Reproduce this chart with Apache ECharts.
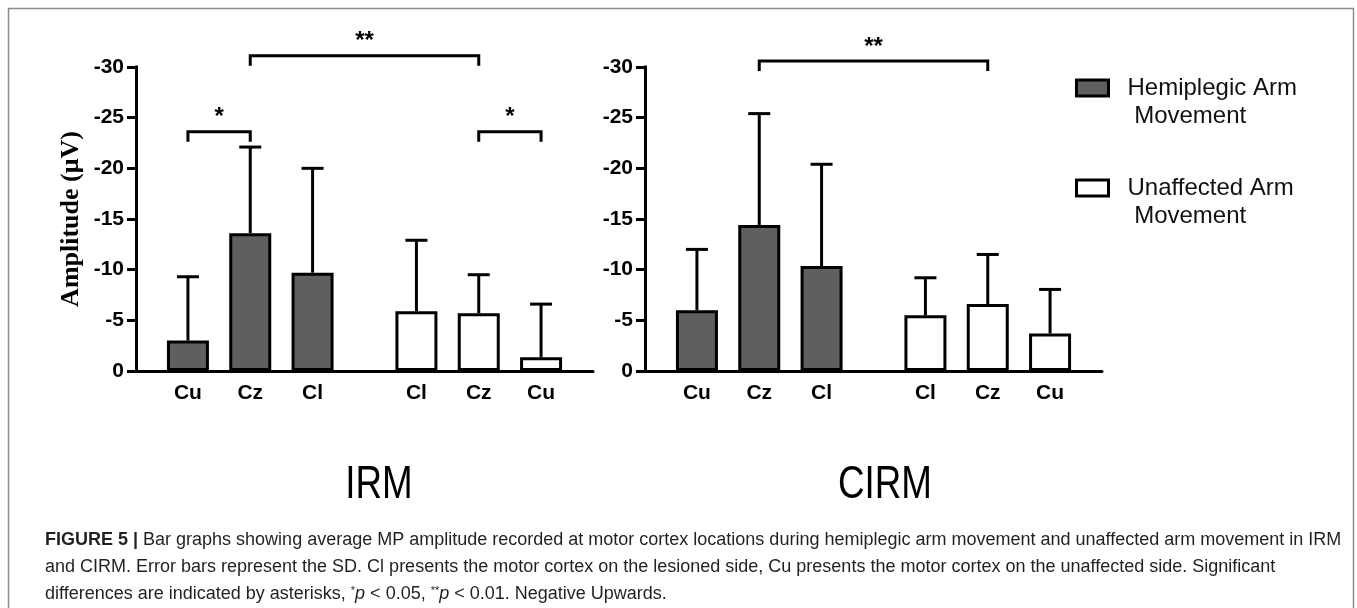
<!DOCTYPE html>
<html>
<head>
<meta charset="utf-8">
<script src="https://cdn.jsdelivr.net/npm/echarts@6/dist/echarts.min.js"></script>
<style>
  html, body { margin: 0; padding: 0; background: #fff; }
  #chart { width: 1357px; height: 608px; }
</style>
</head>
<body>
<div id="chart"></div>
<script>
// recording sites, left to right in each panel
const siteLabels = ['Cu', 'Cz', 'Cl', 'Cl', 'Cz', 'Cu'];

// IRM panel (uV, negative upwards)
const irmHemiMean = [-3.0, -13.6, -9.7];
const irmHemiSD = [6.3, 8.5, 10.3];
const irmUnaffMean = [-5.9, -5.7, -1.35];
const irmUnaffSD = [7.0, 3.8, 5.25];

// CIRM panel
const cirmHemiMean = [-6.0, -14.4, -10.35];
const cirmHemiSD = [6.0, 11.0, 10.05];
const cirmUnaffMean = [-5.5, -6.6, -3.7];
const cirmUnaffSD = [3.7, 4.9, 4.35];

// significance brackets: [from bar, to bar, level]
const irmSig = [[1, 4, -31.1], [0, 1, -23.6], [4, 5, -23.6]];
const irmSigText = ['**', '*', '*'];
const cirmSig = [[1, 4, -30.6]];
const cirmSigText = ['**'];

const yMin = -30, yMax = 0, yStep = 5;
const seriesNames = ['Hemiplegic Arm Movement', 'Unaffected Arm Movement'];
const panelTitles = ['IRM', 'CIRM'];

// layout: each panel axis is cut into narrow slots, bars sit on some of them
const slotCount = 22;
const slotIdx = [2, 5, 8, 13, 16, 19];

const categories = new Array(slotCount).fill('');
slotIdx.forEach((s, i) => { categories[s] = siteLabels[i]; });

function slotData(values, offset) {
  const arr = new Array(slotCount).fill('-');
  values.forEach((v, i) => { arr[slotIdx[offset + i]] = v; });
  return arr;
}

function errData(hMean, hSD, uMean, uSD) {
  const means = hMean.concat(uMean);
  const sds = hSD.concat(uSD);
  return means.map((m, i) => [slotIdx[i], m, sds[i]]);
}

function renderErr(params, api) {
  const x = api.value(0), m = api.value(1), sd = api.value(2);
  const base = api.coord([x, m]);
  const tip = api.coord([x, m - sd]);
  const st = { stroke: '#000', lineWidth: 3 };
  return {
    type: 'group',
    children: [
      { type: 'line', shape: { x1: base[0], y1: base[1], x2: tip[0], y2: tip[1] }, style: st },
      { type: 'line', shape: { x1: tip[0] - 11, y1: tip[1], x2: tip[0] + 11, y2: tip[1] }, style: st }
    ]
  };
}

function makeSigRenderer(texts) {
  return function (params, api) {
    const a = api.coord([api.value(0), api.value(2)]);
    const b = api.coord([api.value(1), api.value(2)]);
    const y = a[1];
    const st = { stroke: '#000', lineWidth: 3, fill: null };
    return {
      type: 'group',
      children: [
        { type: 'polyline', shape: { points: [[a[0], y + 10], [a[0], y], [b[0], y], [b[0], y + 10]] }, style: st },
        {
          type: 'text',
          style: {
            x: (a[0] + b[0]) / 2, y: y - 2, text: texts[params.dataIndex],
            align: 'center', verticalAlign: 'bottom',
            font: 'bold 24px "Liberation Sans", Arial, sans-serif', fill: '#000'
          }
        }
      ]
    };
  };
}

const chart = echarts.init(document.getElementById('chart'));

const grids = [
  { left: 136, width: 457, top: 67, bottom: 237 },
  { left: 645, width: 457, top: 67, bottom: 237 }
];

const xAxes = grids.map((g, i) => ({
  type: 'category',
  gridIndex: i,
  data: categories,
  axisLine: { lineStyle: { color: '#000', width: 3 } },
  axisTick: { show: false },
  axisLabel: {
    interval: 0,
    margin: 12,
    color: '#000',
    fontSize: 21,
    fontWeight: 'bold',
    fontFamily: 'Liberation Sans'
  }
}));

const yAxes = grids.map((g, i) => ({
  type: 'value',
  gridIndex: i,
  min: yMin,
  max: yMax,
  interval: yStep,
  inverse: true,
  splitLine: { show: false },
  axisLine: { show: true, lineStyle: { color: '#000', width: 3, cap: 'square' } },
  axisTick: { show: true, length: 9, lineStyle: { color: '#000', width: 3 } },
  axisLabel: {
    margin: 12,
    color: '#000',
    fontSize: 21,
    fontWeight: 'bold',
    fontFamily: 'Liberation Sans'
  },
  name: i === 0 ? 'Amplitude (μV)' : '',
  nameLocation: 'middle',
  nameGap: 52,
  nameTextStyle: {
    color: '#000',
    fontSize: 26,
    fontWeight: 'bold',
    fontFamily: 'Liberation Serif'
  }
}));

function barSeries(name, data, idx, fill) {
  return {
    name: name,
    type: 'bar',
    xAxisIndex: idx,
    yAxisIndex: idx,
    data: data,
    barWidth: 42,
    barGap: '-100%',
    itemStyle: { color: fill, borderColor: '#000', borderWidth: 3 },
    z: 2
  };
}

const panels = [
  { hm: irmHemiMean, hs: irmHemiSD, um: irmUnaffMean, us: irmUnaffSD, sig: irmSig, sigText: irmSigText },
  { hm: cirmHemiMean, hs: cirmHemiSD, um: cirmUnaffMean, us: cirmUnaffSD, sig: cirmSig, sigText: cirmSigText }
];

let series = [];
panels.forEach((p, i) => {
  series.push(barSeries(seriesNames[0], slotData(p.hm, 0), i, '#5f5f5f'));
  series.push(barSeries(seriesNames[1], slotData(p.um, 3), i, '#ffffff'));
  series.push({
    type: 'custom',
    xAxisIndex: i,
    yAxisIndex: i,
    renderItem: renderErr,
    data: errData(p.hm, p.hs, p.um, p.us),
    encode: { x: 0, y: 1 },
    z: 3,
    silent: true
  });
  series.push({
    type: 'custom',
    xAxisIndex: i,
    yAxisIndex: i,
    clip: false,
    renderItem: makeSigRenderer(p.sigText),
    data: p.sig.map(s => [slotIdx[s[0]], slotIdx[s[1]], s[2]]),
    encode: { x: [0, 1], y: 2 },
    z: 4,
    silent: true
  });
});

const captionFont = '18px "Liberation Sans", Arial, sans-serif';
const captionRich = {
  b: { fontWeight: 'bold', fontSize: 18, fill: '#231f20' },
  i: { fontStyle: 'italic', fontSize: 18, fill: '#231f20' },
  s: { fontSize: 11, fill: '#231f20', verticalAlign: 'top' }
};
const captionLines = [
  '{b|FIGURE 5 |} Bar graphs showing average MP amplitude recorded at motor cortex locations during hemiplegic arm movement and unaffected arm movement in IRM',
  'and CIRM. Error bars represent the SD. Cl presents the motor cortex on the lesioned side, Cu presents the motor cortex on the unaffected side. Significant',
  'differences are indicated by asterisks, {s|*}{i|p} < 0.05, {s|**}{i|p} < 0.01. Negative Upwards.'
];

const option = {
  animation: false,
  backgroundColor: '#fff',
  grid: grids,
  xAxis: xAxes,
  yAxis: yAxes,
  legend: {
    orient: 'vertical',
    left: 1075,
    top: 46,
    padding: 0,
    itemWidth: 32,
    itemHeight: 16,
    itemGap: 16,
    icon: 'rect',
    selectedMode: false,
    data: seriesNames,
    // empty first line keeps the icon level with the first text line
    formatter: name => '\n' + name.replace(' Movement', '\n Movement'),
    itemStyle: { borderColor: '#000', borderWidth: 3 },
    textStyle: {
      color: '#111',
      fontSize: 24,
      lineHeight: 28,
      fontFamily: 'Liberation Sans',
      padding: [0, 0, 0, 14]
    }
  },
  graphic: [
    {
      type: 'rect',
      shape: { x: 8.5, y: 8.5, width: 1345, height: 700 },
      style: { fill: null, stroke: '#8c8c8c', lineWidth: 1.5 },
      silent: true
    },
    {
      type: 'text', x: 379, y: 485, scaleX: 0.8,
      style: { text: panelTitles[0], font: '46px "Liberation Sans", Arial, sans-serif', fill: '#000', align: 'center', verticalAlign: 'middle' }
    },
    {
      type: 'text', x: 885, y: 485, scaleX: 0.8,
      style: { text: panelTitles[1], font: '46px "Liberation Sans", Arial, sans-serif', fill: '#000', align: 'center', verticalAlign: 'middle' }
    }
  ].concat(captionLines.map((t, k) => ({
    type: 'text',
    x: 45,
    y: 540 + k * 27,
    style: { text: t, font: captionFont, fill: '#231f20', verticalAlign: 'middle', rich: captionRich }
  }))),
  series: series
};

chart.setOption(option);
</script>
</body>
</html>
